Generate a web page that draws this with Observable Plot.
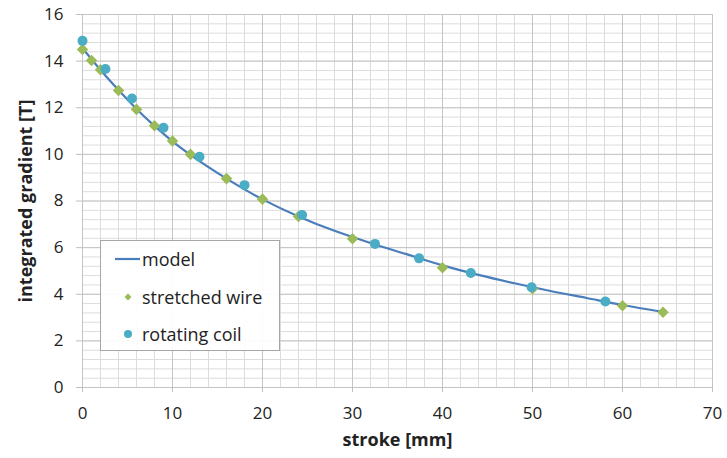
<!DOCTYPE html>
<html><head><meta charset="utf-8">
<script src="https://cdn.jsdelivr.net/npm/d3@7"></script>
<script src="https://cdn.jsdelivr.net/npm/@observablehq/plot@0.6"></script>
<style>
body{margin:0;background:#fff;font-family:"Open Sans",sans-serif;}
#wrap{position:relative;width:727px;height:458px;}
#legend{position:absolute;left:100px;top:240px;width:180px;height:111px;border:1px solid #a6a6a6;background:rgba(255,255,255,0.92);font-family:"Open Sans",sans-serif;font-size:18px;color:#222;box-sizing:border-box;}
.item{position:absolute;left:0;height:24px;display:flex;align-items:center;}
.item svg{margin-left:14px;}
.item span{margin-left:2px;}
</style></head>
<body><div id="wrap"></div>
<script>
const wireX = [0, 1, 2, 4, 6, 8, 10, 12, 16, 20, 24, 30, 40, 50, 60, 64.5];
const wireY = [14.5, 14.03, 13.63, 12.74, 11.93, 11.23, 10.57, 10.0, 8.96, 8.08, 7.34, 6.38, 5.14, 4.24, 3.51, 3.23];
const coilX = [0, 2.55, 5.5, 9.0, 13.0, 18.0, 24.4, 32.5, 37.4, 43.15, 49.9, 58.1];
const coilY = [14.87, 13.66, 12.4, 11.14, 9.9, 8.68, 7.4, 6.16, 5.54, 4.91, 4.3, 3.69];
const modelX = [0, 2, 4, 6, 8, 10, 12, 14, 16, 18, 20, 24, 28, 32, 36, 40, 44, 48, 52, 56, 60, 64.5];
const modelY = [14.55, 13.62, 12.76, 11.95, 11.22, 10.56, 9.98, 9.45, 8.96, 8.5, 8.07, 7.34, 6.72, 6.2, 5.72, 5.24, 4.83, 4.47, 4.14, 3.84, 3.54, 3.24];
const xTicks = [0, 10, 20, 30, 40, 50, 60, 70];
const yTicks = [0, 2, 4, 6, 8, 10, 12, 14, 16];
const xMinor = d3.range(0, 71, 2);
const yMinor = d3.range(0, 41).map(i => +(i * 0.4).toFixed(2));

const wire = wireX.map((x, i) => ({x, y: wireY[i]}));
const coil = coilX.map((x, i) => ({x, y: coilY[i]}));
const model = modelX.map((x, i) => ({x, y: modelY[i]}));

const chart = Plot.plot({
  width: 727, height: 458,
  marginLeft: 82, marginRight: 15, marginTop: 14, marginBottom: 71,
  style: {fontFamily: "'Open Sans', sans-serif", fontSize: "17px", color: "#222", background: "#fff"},
  x: {domain: [0, 70], label: null},
  y: {domain: [0, 16], label: null},
  marks: [
    Plot.ruleX(xMinor, {stroke: "#dcdcdc", strokeWidth: 1}),
    Plot.ruleY(yMinor, {stroke: "#dcdcdc", strokeWidth: 1}),
    Plot.ruleX(xTicks, {stroke: "#c4c4c4", strokeWidth: 1}),
    Plot.ruleY(yTicks, {stroke: "#c4c4c4", strokeWidth: 1}),
    Plot.axisX({ticks: xTicks, tickSize: 5, tickPadding: 14, stroke: "#bfbfbf", fontSize: 17, fill: "#222"}),
    Plot.axisY({ticks: yTicks, tickSize: 6, tickPadding: 13, stroke: "#bfbfbf", fontSize: 17, fill: "#222"}),
    Plot.text(["stroke [mm]"], {frameAnchor: "bottom", dy: 58, fontWeight: "bold", fontSize: 18, fill: "#222"}),
    Plot.text(["integrated gradient [T]"], {frameAnchor: "left", textAnchor: "middle", dx: -56, rotate: -90, fontWeight: "bold", fontSize: 18, fill: "#222"}),
    Plot.line(model, {x: "x", y: "y", curve: "catmull-rom", stroke: "#4a7ebb", strokeWidth: 2.2}),
    Plot.dot(wire, {x: "x", y: "y", symbol: "diamond2", r: 5.2, fill: "#9bbb59", stroke: "none"}),
    Plot.dot(coil, {x: "x", y: "y", symbol: "circle", r: 5, fill: "#4bacc6", stroke: "none"})
  ]
});
const wrap = document.getElementById("wrap");
wrap.appendChild(chart);
const lg = document.createElement("div");
lg.id = "legend";
lg.innerHTML = `
<div class="item" style="top:6px"><svg width="25" height="10"><line x1="0" x2="25" y1="5" y2="5" stroke="#4a7ebb" stroke-width="2.2"/></svg><span>model</span></div>
<div class="item" style="top:44px"><svg width="25" height="12"><path d="M13,2.5 L16.5,6 L13,9.5 L9.5,6 Z" fill="#9bbb59"/></svg><span>stretched wire</span></div>
<div class="item" style="top:81px"><svg width="25" height="12"><circle cx="13" cy="6" r="4" fill="#4bacc6"/></svg><span>rotating coil</span></div>`;
wrap.appendChild(lg);
</script></body></html>
